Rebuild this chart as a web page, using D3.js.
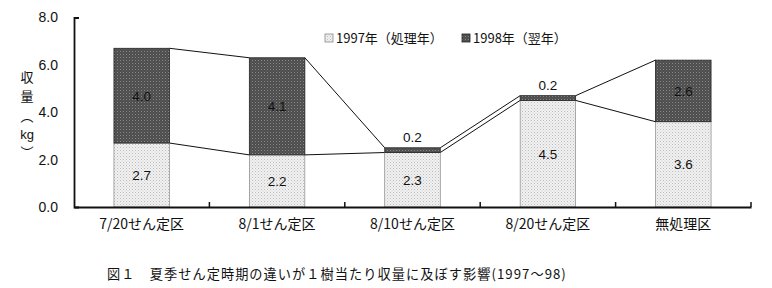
<!DOCTYPE html>
<html><head><meta charset="utf-8">
<script src="https://cdn.jsdelivr.net/npm/d3@7"></script>
<style>
html,body{margin:0;padding:0;background:#fff;}
svg{display:block;}
text{font-family:"Liberation Sans","Noto Sans CJK JP",sans-serif;fill:#111;}
.jp{font-family:"Noto Sans CJK JP",sans-serif;}
</style></head>
<body>
<svg id="c" width="772" height="288"></svg>
<script>
const categories = ["7/20せん定区","8/1せん定区","8/10せん定区","8/20せん定区","無処理区"];
const series1997 = [2.7, 2.2, 2.3, 4.5, 3.6];
const series1998 = [4.0, 4.1, 0.2, 0.2, 2.6];
const seriesNames = ["1997年（処理年）","1998年（翌年）"];
const yTicks = [0, 2, 4, 6, 8];
const yTitle = ["収", "量", "︵", "kg", "︶"];
const caption = "図１　夏季せん定時期の違いが１樹当たり収量に及ぼす影響(1997〜98)";

const svg = d3.select("#c");
const defs = svg.append("defs");
const pl = defs.append("pattern").attr("id","light").attr("patternUnits","userSpaceOnUse").attr("width",3).attr("height",3);
pl.append("rect").attr("width",3).attr("height",3).attr("fill","#f1f1f1");
pl.append("rect").attr("x",0).attr("y",0).attr("width",1).attr("height",1).attr("fill","#bdbdbd");
pl.append("rect").attr("x",1.5).attr("y",1.5).attr("width",1).attr("height",1).attr("fill","#d0d0d0");
const pd = defs.append("pattern").attr("id","dark").attr("patternUnits","userSpaceOnUse").attr("width",3).attr("height",3);
pd.append("rect").attr("width",3).attr("height",3).attr("fill","#4d4d4d");
pd.append("rect").attr("x",0).attr("y",0).attr("width",1).attr("height",1).attr("fill","#8a8a8a");
pd.append("rect").attr("x",1.5).attr("y",1.5).attr("width",1).attr("height",1).attr("fill","#6a6a6a");

const x = d3.scaleBand().domain(categories).range([74, 751]).padding(0);
const y = d3.scaleLinear().domain([0, 8]).range([207, 17.5]);
const bw = x.bandwidth() * 0.41;
const bx = c => x(c) + (x.bandwidth() - bw) / 2;

const rows = categories.map((c, i) => ({c, a: series1997[i], b: series1998[i], t: series1997[i] + series1998[i]}));

const g = svg.append("g");
for (let i = 0; i < rows.length - 1; i++) {
  const r0 = rows[i], r1 = rows[i+1];
  [[r0.a, r1.a], [r0.t, r1.t]].forEach(([v0, v1]) => {
    g.append("line")
      .attr("x1", bx(r0.c) + bw).attr("y1", y(v0))
      .attr("x2", bx(r1.c)).attr("y2", y(v1))
      .attr("stroke", "#111").attr("stroke-width", 1);
  });
}

rows.forEach(r => {
  g.append("rect").attr("x", bx(r.c)).attr("y", y(r.a)).attr("width", bw).attr("height", y(0) - y(r.a))
    .attr("fill", "url(#light)").attr("stroke", "#777").attr("stroke-width", 0.6);
  g.append("rect").attr("x", bx(r.c)).attr("y", y(r.t)).attr("width", bw).attr("height", y(r.a) - y(r.t))
    .attr("fill", "url(#dark)").attr("stroke", "#222").attr("stroke-width", 0.8);
});

rows.forEach(r => {
  const cx = bx(r.c) + bw / 2;
  g.append("text").attr("x", cx).attr("y", (y(0) + y(r.a)) / 2 + 5)
    .attr("text-anchor", "middle").attr("font-size", 13.5).text(r.a.toFixed(1));
  const small = (y(r.a) - y(r.t)) < 16;
  g.append("text").attr("x", cx)
    .attr("y", small ? y(r.t) - 6 : (y(r.a) + y(r.t)) / 2 + 5)
    .attr("text-anchor", "middle").attr("font-size", 13.5)
    .attr("fill", small ? "#111" : "#222").text(r.b.toFixed(1));
});

const yAxis = d3.axisLeft(y).tickValues(yTicks).tickFormat(d3.format(".1f")).tickSizeInner(0).tickSizeOuter(-5).tickPadding(16);
const ya = svg.append("g").attr("transform", "translate(74,0)").call(yAxis);
ya.select(".domain").attr("stroke", "#111").attr("stroke-width", 1.8);
ya.selectAll("text").attr("font-size", 14).attr("font-family", "Liberation Sans, sans-serif").attr("fill","#111");

const xAxis = d3.axisBottom(x).tickSize(0).tickPadding(16);
const xa = svg.append("g").attr("transform", "translate(0,207)").call(xAxis);
xa.select(".domain").attr("stroke", "#111").attr("stroke-width", 1.8);
xa.selectAll("text").attr("class","jp").attr("font-size", 14).attr("fill","#111").attr("dy","0.45em");
const bounds = categories.slice(1).map(c => x(c)).concat([x.range()[1]]);
xa.selectAll(".bt").data(bounds).enter().append("line")
  .attr("x1", d => d).attr("x2", d => d).attr("y1", 0).attr("y2", -5)
  .attr("stroke", "#111").attr("stroke-width", 1.5);

// vertical y-axis title, one character per text, spaced so boxes don't collide
const ty = [77, 96.5, 116, 134, 152];
yTitle.forEach((t, i) => {
  svg.append("text").attr("x", 27).attr("y", ty[i])
    .attr("text-anchor", "middle").attr("dominant-baseline", "central")
    .attr("font-size", 13)
    .attr("font-family", t === "kg" ? "Liberation Sans, sans-serif" : "Noto Sans CJK JP, sans-serif")
    .text(t);
});

const leg = [[325, 336, "url(#light)", "#888"], [462, 473, "url(#dark)", "#222"]];
leg.forEach(([bxp, tx, f, s], i) => {
  svg.append("rect").attr("x", bxp).attr("y", 34).attr("width", 8).attr("height", 8).attr("fill", f).attr("stroke", s).attr("stroke-width", 0.8);
  svg.append("text").attr("class","jp").attr("x", tx).attr("y", 43).attr("font-size", 13).text(seriesNames[i]);
});

svg.append("text").attr("class","jp").attr("x", 107).attr("y", 279).attr("font-size", 13.2)
  .attr("letter-spacing", 1.05).text(caption);
</script>
</body></html>
